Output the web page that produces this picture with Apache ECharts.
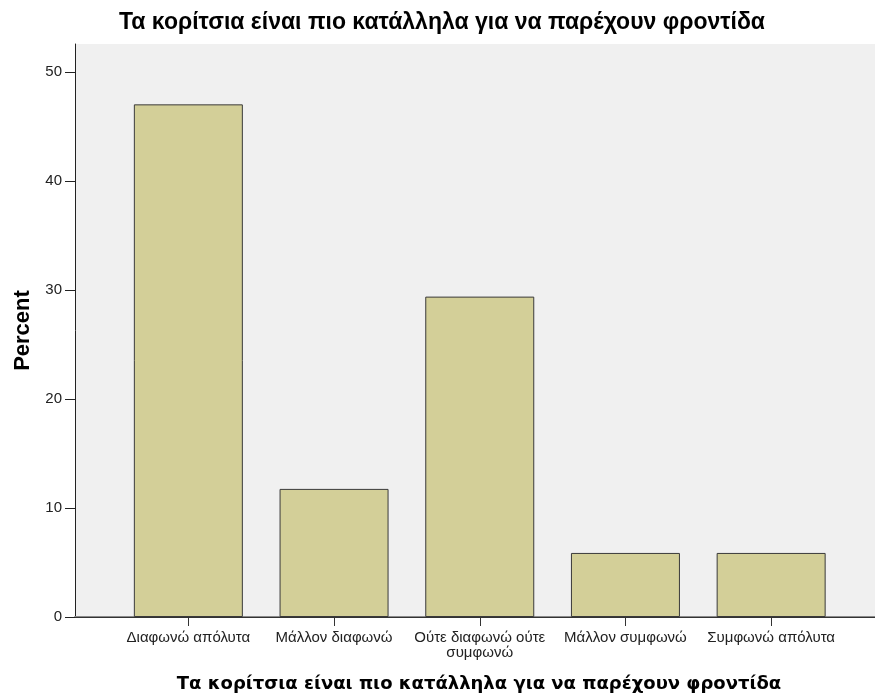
<!DOCTYPE html>
<html>
<head>
<meta charset="utf-8">
<script src="https://cdn.jsdelivr.net/npm/echarts@6/dist/echarts.min.js"></script>
<style>
html,body{margin:0;padding:0;background:#fff;}
#c{width:875px;height:698px;}
</style>
</head>
<body>
<div id="c"></div>
<script>
const titleText = 'Τα κορίτσια είναι πιο κατάλληλα για να παρέχουν φροντίδα';
const categories = ['Διαφωνώ απόλυτα', 'Μάλλον διαφωνώ', 'Ούτε διαφωνώ ούτε συμφωνώ', 'Μάλλον συμφωνώ', 'Συμφωνώ απόλυτα'];
const percentValues = [47.06, 11.76, 29.41, 5.88, 5.88];
const yTicks = [0, 10, 20, 30, 40, 50];
const yMax = 52.6;

function wrapLabel(s) {
  const maxChars = 18;
  if (s.length <= maxChars) return s;
  const cut = s.lastIndexOf(' ', maxChars);
  return cut > 0 ? s.slice(0, cut) + '\n' + s.slice(cut + 1) : s;
}

const chart = echarts.init(document.getElementById('c'), null, {renderer: 'canvas'});
chart.setOption({
  animation: false,
  backgroundColor: '#ffffff',
  title: [
    {
      text: titleText, left: 442, top: 11, textAlign: 'center', padding: 0,
      textStyle: {fontFamily: 'Liberation Sans', fontWeight: 'bold', fontSize: 23, color: '#000'}
    },
    {
      text: titleText, left: 479, top: 675, textAlign: 'center', padding: 0,
      textStyle: {fontFamily: 'DejaVu Sans', fontWeight: 'bold', fontSize: 18, color: '#000'}
    }
  ],
  grid: [
    {left: 75, right: 0, top: 44, bottom: 81, show: true, backgroundColor: '#f0f0f0', borderWidth: 0, containLabel: false},
    {left: 115.5, right: 31, top: 44, bottom: 81, containLabel: false}
  ],
  xAxis: [
    {gridIndex: 0, type: 'value', position: 'top', min: 0, max: 1,
     axisLine: {show: true, lineStyle: {color: '#8a8a8a', width: 2}},
     axisTick: {show: false}, axisLabel: {show: false}, splitLine: {show: false}},
    {gridIndex: 0, type: 'value', position: 'bottom', min: 0, max: 1,
     axisLine: {show: true, lineStyle: {color: '#333', width: 1}},
     axisTick: {show: false}, axisLabel: {show: false}, splitLine: {show: false}},
    {gridIndex: 1, type: 'category', data: categories, position: 'bottom',
     axisLine: {show: false},
     axisTick: {show: true, alignWithLabel: true, length: 9, lineStyle: {color: '#333', width: 1}},
     axisLabel: {interval: 0, margin: 13, fontFamily: 'Liberation Sans', fontSize: 15, color: '#222',
                 lineHeight: 15, formatter: wrapLabel},
     splitLine: {show: false}}
  ],
  yAxis: [
    {gridIndex: 0, type: 'value', min: 0, max: yMax, interval: 10,
     axisLine: {show: true, lineStyle: {color: '#222', width: 1}},
     axisTick: {show: true, length: 10, lineStyle: {color: '#222'}, customValues: yTicks},
     axisLabel: {margin: 13, fontFamily: 'Liberation Sans', fontSize: 15, color: '#222', customValues: yTicks},
     splitLine: {show: false},
     name: 'Percent', nameLocation: 'middle', nameGap: 41,
     nameTextStyle: {fontFamily: 'Liberation Sans', fontWeight: 'bold', fontSize: 22, color: '#000'}},
    {gridIndex: 1, type: 'value', min: 0, max: yMax, show: false}
  ],
  series: [{
    type: 'bar',
    xAxisIndex: 2,
    yAxisIndex: 1,
    data: percentValues,
    barWidth: 109,
    itemStyle: {color: '#d3cf98', borderColor: '#3a3a3a', borderWidth: 1}
  }]
});
</script>
</body>
</html>
